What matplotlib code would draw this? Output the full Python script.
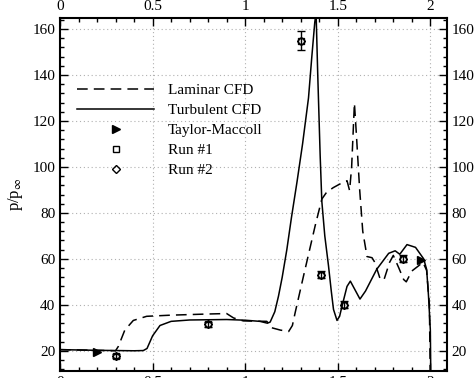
import matplotlib.pyplot as plt
from matplotlib.ticker import MultipleLocator

# data
turb_x = [0.0, 0.2, 0.4, 0.45, 0.47, 0.5, 0.54, 0.6, 0.7, 0.9, 1.0, 1.08, 1.12, 1.135,
          1.16, 1.18, 1.2, 1.225, 1.25, 1.28, 1.31, 1.342, 1.36, 1.376, 1.383, 1.392,
          1.405, 1.414, 1.43, 1.45, 1.465, 1.477, 1.496, 1.51, 1.523, 1.55, 1.568, 1.59,
          1.62, 1.65, 1.71, 1.775, 1.81, 1.835, 1.874, 1.92, 1.964, 1.98, 1.99, 2.0, 2.003]
turb_y = [20.5, 20.2, 20.0, 20.1, 21.0, 26.5, 31.0, 32.8, 33.4, 33.6, 33.3, 32.8, 32.0, 32.5,
          37.0, 43.8, 52.0, 64.0, 78.0, 93.5, 110.0, 130.0, 148.0, 163.0, 167.0, 140.0,
          105.0, 85.0, 70.0, 57.0, 46.0, 38.0, 33.2, 35.0, 39.4, 48.0, 50.3, 47.0,
          42.5, 46.0, 55.4, 62.4, 63.5, 62.0, 66.2, 65.0, 60.0, 55.4, 44.0, 29.0, 5.0]

lam_x = [0.0, 0.2, 0.3, 0.315, 0.35, 0.396, 0.468, 0.6, 0.8, 0.9, 0.937, 0.99, 1.117, 1.144,
         1.19, 1.235, 1.255, 1.27, 1.315, 1.378, 1.414, 1.44, 1.476, 1.51, 1.55, 1.564,
         1.575, 1.59, 1.60, 1.618, 1.635, 1.658, 1.685, 1.70, 1.73, 1.75, 1.78, 1.80,
         1.83, 1.856, 1.87, 1.90, 1.937, 1.96, 1.98, 1.995, 2.0]
lam_y = [20.5, 20.2, 20.0, 21.9, 29.0, 33.2, 35.0, 35.5, 36.0, 36.2, 34.3, 33.0, 32.8, 30.0,
         29.0, 28.4, 31.0, 36.6, 52.5, 74.4, 86.0, 89.0, 91.0, 92.5, 94.0, 89.7,
         100.0, 127.7, 115.0, 90.5, 72.0, 61.0, 60.5, 58.5, 51.0, 51.0, 58.5, 61.5,
         56.0, 51.0, 50.0, 54.7, 57.0, 58.5, 55.0, 40.0, 5.0]

tm_x = [0.2, 1.95]
tm_y = [19.4, 59.5]

run_x = [0.3, 0.8, 1.3, 1.41, 1.535, 1.85]
run1_y = [17.8, 31.5, 155.0, 53.0, 40.0, 60.0]
run2_y = [17.8, 31.5, 155.0, 53.0, 40.0, 60.0]
run_err = [1.0, 1.0, 4.0, 1.5, 1.5, 1.5]

x_ticks = [0, 0.5, 1, 1.5, 2]
x_labels = ["0", "0.5", "1", "1.5", "2"]
y_ticks = [20, 40, 60, 80, 100, 120, 140, 160]

plt.rcParams["font.family"] = "Liberation Serif"
plt.rcParams["mathtext.fontset"] = "stix"
plt.rcParams["font.size"] = 11

fig = plt.figure(figsize=(4.74, 3.78), dpi=100)
ax = fig.add_axes([60 / 474, 1 - 371 / 378, 387 / 474, 353 / 378])

h_lam, = ax.plot(lam_x, lam_y, color="black", lw=1.1, ls=(0, (7, 4)))
h_turb, = ax.plot(turb_x, turb_y, color="black", lw=1.1)
h_tm, = ax.plot(tm_x, tm_y, ls="none", marker=">", ms=6, color="black")
ax.errorbar(run_x, run1_y, yerr=run_err, ls="none", ecolor="black",
            elinewidth=1.0, capsize=3)
h_r1, = ax.plot(run_x, run1_y, ls="none", marker="s", ms=5, mfc="none",
                mec="black", mew=1.0)
h_r2, = ax.plot(run_x, run2_y, ls="none", marker="D", ms=4.5, mfc="none",
                mec="black", mew=1.0)

ax.set_xlim(0, 2.09)
ax.set_ylim(11.2, 164.8)
ax.set_xticks(x_ticks)
ax.set_xticklabels(x_labels)
ax.set_yticks(y_ticks)
ax.xaxis.set_minor_locator(MultipleLocator(0.1))
ax.yaxis.set_minor_locator(MultipleLocator(4))
ax.tick_params(which="both", direction="in", top=True, right=True,
               labeltop=True, labelright=True, width=1.0)
ax.tick_params(which="major", length=6, pad=3.5)
ax.tick_params(which="minor", length=3)
for sp in ax.spines.values():
    sp.set_linewidth(1.5)

ax.grid(True, which="major", color="#b0b0b0", ls=(0, (1, 2.5)), lw=0.8)
ax.set_ylabel(r"p/p$_\infty$", fontsize=12, labelpad=5)

ax.legend([h_lam, h_turb, h_tm, h_r1, h_r2],
          ["Laminar CFD", "Turbulent CFD", "Taylor-Maccoll", "Run #1", "Run #2"],
          loc="upper left", bbox_to_anchor=(0.045, 0.815), frameon=False,
          handlelength=5.0, handletextpad=0.9, labelspacing=0.42, borderpad=0,
          borderaxespad=0, fontsize=11)

fig.savefig("out.png", dpi=100)
